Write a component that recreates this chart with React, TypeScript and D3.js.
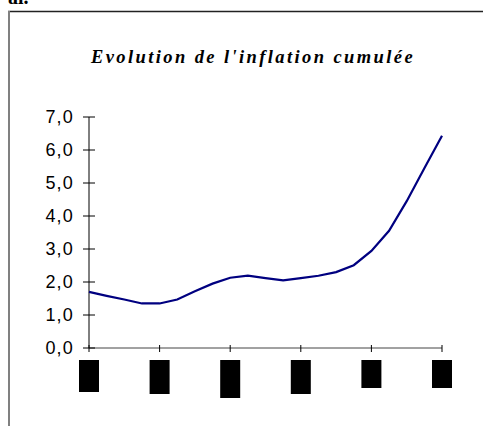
import React, { useRef, useEffect } from "react";
import * as d3 from "d3";

// quarterly points, 5 years
const quarters: number[] = d3.range(0, 21);
const inflation: number[] = [
  1.7, 1.58, 1.47, 1.35, 1.35, 1.47, 1.72, 1.95, 2.13, 2.19, 2.12,
  2.05, 2.12, 2.19, 2.3, 2.51, 2.94, 3.55, 4.45, 5.45, 6.43,
];
const yTicks: number[] = [0, 1, 2, 3, 4, 5, 6, 7];
const xTicks: number[] = [0, 4, 8, 12, 16, 20];
// x labels came out as solid black boxes; their heights
const xLabelBoxes: number[] = [32, 34, 38, 34, 28, 28];

const title = "Evolution de l'inflation cumulée";

const App = () => {
  const svgRef = useRef<SVGSVGElement>(null);

  useEffect(() => {
    const svg = d3.select(svgRef.current);
    svg.selectAll("*").remove();

    const x = d3.scaleLinear().domain([0, 20]).range([89, 442]);
    const y = d3.scaleLinear().domain([0, 7]).range([348, 117]);

    // bit of text from the page above
    svg.append("text")
      .attr("x", 8)
      .attr("y", 4)
      .style("font-family", "'Liberation Serif', serif")
      .style("font-weight", "bold")
      .style("font-size", "20px")
      .text("al.");

    // frame
    svg.append("line")
      .attr("x1", 8).attr("x2", 483)
      .attr("y1", 11.5).attr("y2", 11.5)
      .attr("stroke", "#222").attr("stroke-width", 1.5);
    svg.append("line")
      .attr("x1", 9).attr("x2", 9)
      .attr("y1", 11).attr("y2", 426)
      .attr("stroke", "#808080").attr("stroke-width", 2);

    // title
    svg.append("text")
      .attr("x", 253)
      .attr("y", 63)
      .attr("text-anchor", "middle")
      .style("font-family", "'Liberation Serif', serif")
      .style("font-style", "italic")
      .style("font-weight", "bold")
      .style("font-size", "18.5px")
      .style("letter-spacing", "2.4px")
      .text(title);

    // axes
    const g = svg.append("g").attr("stroke", "#000").attr("stroke-width", 1);
    g.append("line")
      .attr("x1", x(0)).attr("x2", x(0))
      .attr("y1", y(7)).attr("y2", y(0));
    g.append("line")
      .attr("x1", x(0)).attr("x2", x(20))
      .attr("y1", y(0)).attr("y2", y(0))
      .attr("stroke", "#444");

    g.selectAll(".ytick")
      .data(yTicks)
      .enter()
      .append("line")
      .attr("x1", x(0) - 6).attr("x2", x(0) + 6)
      .attr("y1", d => y(d)).attr("y2", d => y(d));

    g.selectAll(".xtick")
      .data(xTicks)
      .enter()
      .append("line")
      .attr("x1", d => x(d)).attr("x2", d => x(d))
      .attr("y1", y(0) - 3).attr("y2", y(0) + 4);

    svg.selectAll(".ylabel")
      .data(yTicks)
      .enter()
      .append("text")
      .attr("x", 74)
      .attr("y", d => y(d))
      .attr("dy", "0.36em")
      .attr("text-anchor", "end")
      .style("font-family", "'Liberation Sans', Arial, sans-serif")
      .style("font-size", "18px")
      .style("letter-spacing", "1.2px")
      .text(d => d.toFixed(1).replace(".", ","));

    svg.selectAll(".xlabel")
      .data(xTicks)
      .enter()
      .append("rect")
      .attr("x", d => x(d) - 10)
      .attr("y", 360)
      .attr("width", 20)
      .attr("height", (d, i) => xLabelBoxes[i])
      .attr("fill", "#000");

    // line
    const line = d3.line<number>()
      .x(d => x(d))
      .y(d => y(inflation[d]));

    svg.append("path")
      .datum(quarters)
      .attr("d", line)
      .attr("fill", "none")
      .attr("stroke", "#000080")
      .attr("stroke-width", 2.2);
  }, []);

  return (
    <svg
      ref={svgRef}
      width={483}
      height={426}
      style={{ position: "absolute", left: 0, top: 0, background: "#fff" }}
    ></svg>
  );
};

export default App;
